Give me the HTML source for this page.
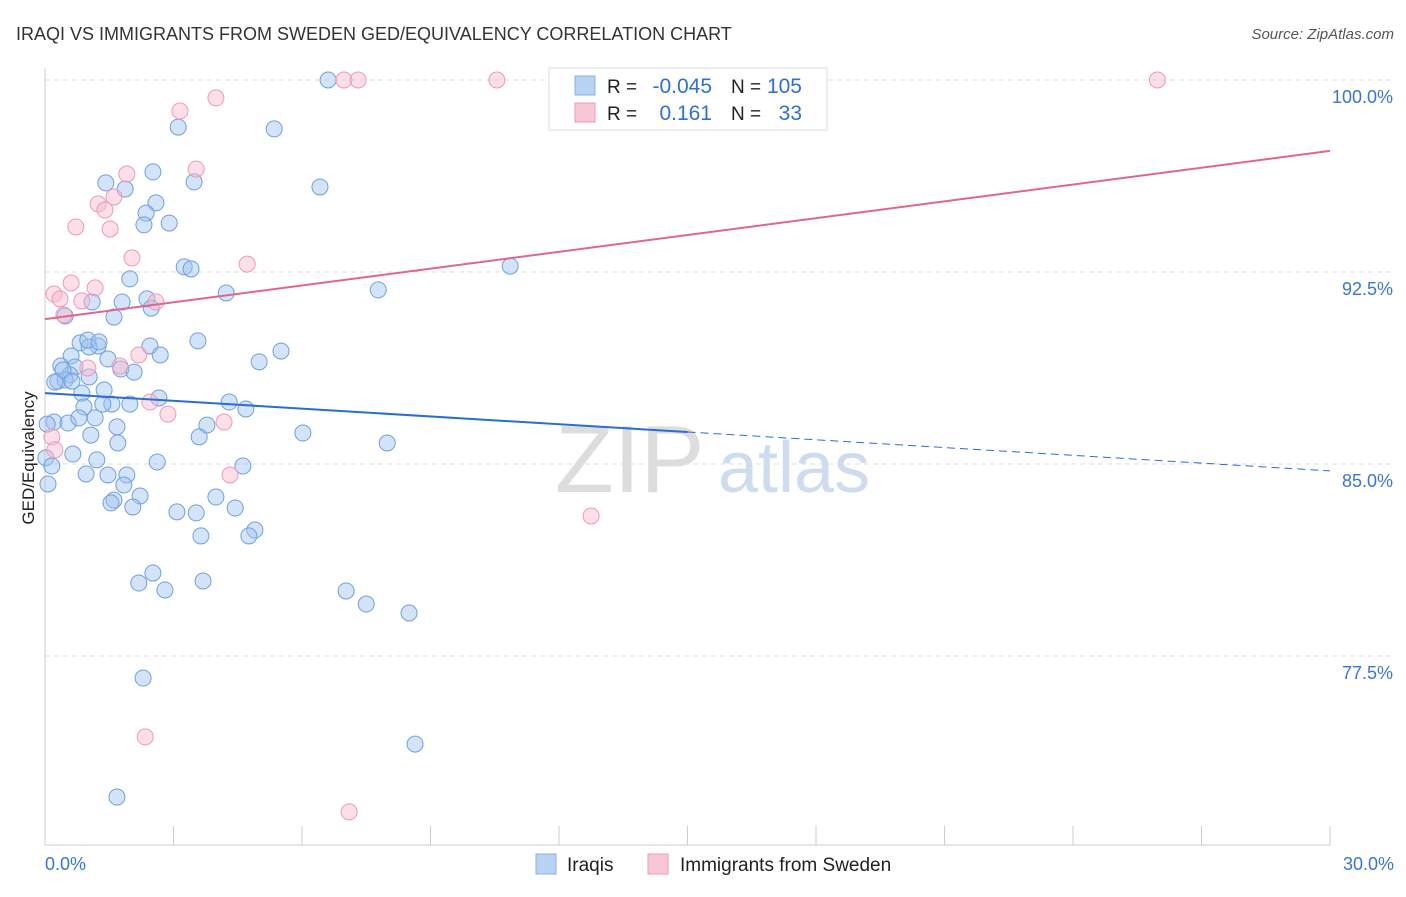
<!DOCTYPE html>
<html><head><meta charset="utf-8"><style>
body{margin:0;background:#fff;font-family:"Liberation Sans",sans-serif;}
svg text{font-family:"Liberation Sans",sans-serif;}
</style></head><body>
<svg id="chart" width="1406" height="892">
<text x="16" y="40" font-size="18" fill="#333">IRAQI VS IMMIGRANTS FROM SWEDEN GED/EQUIVALENCY CORRELATION CHART</text>
<text x="1394" y="39" font-size="15" fill="#555" text-anchor="end" font-style="italic">Source: ZipAtlas.com</text>
<text x="34" y="458" font-size="17" fill="#222" text-anchor="middle" transform="rotate(-90 34 458)">GED/Equivalency</text>
<g><text x="555" y="492" font-size="96" fill="#ddd" font-family="Liberation Serif">ZIP</text><text x="718" y="492" font-size="72" fill="#cfdcf0">atlas</text></g>
<g id="grid"></g><g id="axes"></g><g id="pts"></g><g id="trends"></g>
<g>
<rect x="549" y="68" width="278" height="62" fill="#fff" stroke="#ddd"/>
<rect x="575" y="76" width="20" height="19" fill="#b8d3f4" stroke="#8ab2e8"/>
<rect x="575" y="103" width="20" height="19" fill="#f9c6d6" stroke="#ee9ab5"/>
<text x="607" y="93" font-size="19" fill="#222">R = </text><text x="712" y="93" font-size="21" fill="#2f6fd6" text-anchor="end">-0.045</text>
<text x="731" y="93" font-size="19" fill="#222">N = </text><text x="802" y="93" font-size="21" fill="#2f6fd6" text-anchor="end">105</text>
<text x="607" y="120" font-size="19" fill="#222">R = </text><text x="712" y="120" font-size="21" fill="#2f6fd6" text-anchor="end">0.161</text>
<text x="731" y="120" font-size="19" fill="#222">N = </text><text x="802" y="120" font-size="21" fill="#2f6fd6" text-anchor="end">33</text>
</g>
<g>
<rect x="536" y="854" width="20" height="20" fill="#b8d3f4" stroke="#8ab2e8"/>
<text x="567" y="871" font-size="19" fill="#222">Iraqis</text>
<rect x="648" y="854" width="20" height="20" fill="#f9c6d6" stroke="#ee9ab5"/>
<text x="680" y="871" font-size="19" fill="#222">Immigrants from Sweden</text>
</g>
</svg>
<script>
const blueX=[6.61,3.11,5.35,2.52,1.42,1.87,3.48,6.42,2.59,2.36,2.31,2.90,3.25,3.41,10.86,1.98,4.23,7.78,2.38,1.80,1.10,2.48,1.61,0.47,3.57,0.82,1.24,1.03,2.45,5.51,2.69,0.61,1.47,5.00,0.37,0.70,1.77,2.08,0.58,1.03,0.30,0.47,1.38,2.66,0.86,1.98,1.56,1.35,4.30,4.69,0.91,0.21,0.54,0.79,1.17,0.05,1.68,3.78,1.07,3.60,6.02,7.99,1.70,0.65,0.02,1.21,2.62,0.16,4.62,1.91,1.47,0.96,1.84,0.07,2.22,3.99,1.61,1.54,2.05,3.08,3.53,4.44,4.90,4.76,3.64,2.52,2.19,2.80,3.69,7.03,7.50,8.50,2.29,8.64,1.68,1.00,1.26,0.42,0.63,0.23];
const blueY=[100.0,98.16,98.09,96.41,95.98,95.74,96.02,95.82,95.20,94.80,94.34,94.41,92.70,92.62,92.73,92.23,91.68,91.80,91.45,91.33,91.33,91.09,90.74,90.78,89.81,89.73,89.61,89.57,89.61,89.41,89.26,89.22,89.10,88.99,88.83,88.79,88.71,88.59,88.48,88.40,88.24,88.28,87.89,87.58,87.77,87.34,87.34,87.34,87.42,87.15,87.23,86.64,86.60,86.80,86.80,86.56,86.45,86.52,86.13,86.06,86.21,85.82,85.82,85.39,85.24,85.16,85.08,84.92,84.92,84.57,84.57,84.61,84.18,84.22,83.75,83.71,83.59,83.48,83.32,83.13,83.09,83.28,82.42,82.19,82.19,80.74,80.35,80.08,80.43,80.04,79.53,79.18,76.64,74.06,71.99,89.84,89.77,88.67,88.24,88.20];
const pinkX=[6.98,7.31,10.55,25.97,3.15,3.99,3.53,1.91,1.61,1.24,1.40,0.72,1.52,2.03,4.72,0.61,0.21,0.35,1.17,0.86,2.59,0.44,2.19,1.75,1.00,2.45,2.87,4.18,0.16,0.23,4.32,12.75,2.34,7.10];
const pinkY=[100.0,100.0,100.0,100.0,98.79,99.30,96.52,96.33,95.43,95.16,94.92,94.26,94.18,93.05,92.81,92.07,91.64,91.45,91.88,91.37,91.33,90.82,89.26,88.83,88.75,87.42,86.95,86.64,86.06,85.55,84.57,82.97,74.34,71.41];
const yTicks=[100,92.5,85,77.5];
const yTickLabels=["100.0%","92.5%","85.0%","77.5%"];
const blueTrend=[87.77,84.73];
const pinkTrend=[90.66,97.23];
const NS="http://www.w3.org/2000/svg";
const sx=v=>45+v/30*1285, sy=v=>80+(100-v)*25.6;
function mk(tag,parent,attrs){const e=document.createElementNS(NS,tag);for(const k in attrs)e.setAttribute(k,attrs[k]);document.getElementById(parent).appendChild(e);return e;}
yTicks.forEach((t,i)=>{
 const g=mk('line','grid',{x1:45,x2:1395,y1:sy(t),y2:sy(t),stroke:'#ddd','stroke-dasharray':'5,4'});
 
 
 const tx=mk('text','grid',{x:1393,y:sy(t)+23,'font-size':18,fill:'#3a74d6','text-anchor':'end'});
 tx.textContent=yTickLabels[i];
 
 
});
let a=mk('line','axes',{x1:45,x2:45,y1:68,y2:845,stroke:'#ccc'});


a=mk('line','axes',{x1:45,x2:1330,y1:845,y2:845,stroke:'#ccc'});


for(let i=0;i<=10;i++){const t=mk('line','axes',{x1:sx(i*3),x2:sx(i*3),y1:826,y2:845,stroke:'#ccc'});
 
 }
let l=mk('text','axes',{x:45,y:870,'font-size':18,fill:'#3a74d6'});l.textContent='0.0%';


l=mk('text','axes',{x:1394,y:870,'font-size':18,fill:'#3a74d6','text-anchor':'end'});l.textContent='30.0%';


blueX.forEach((x,i)=>{const c=mk('circle','pts',{cx:sx(x),cy:sy(blueY[i]),r:8,fill:'rgba(160,195,240,0.45)',stroke:'#6f9fe0','stroke-width':1});
 
 });
pinkX.forEach((x,i)=>{const c=mk('circle','pts',{cx:sx(x),cy:sy(pinkY[i]),r:8,fill:'rgba(248,185,205,0.45)',stroke:'#ec9ab6','stroke-width':1});
 
 });
const bMid=blueTrend[0]+(blueTrend[1]-blueTrend[0])*0.5;
let t=mk('line','trends',{x1:sx(0),y1:sy(blueTrend[0]),x2:sx(15),y2:sy(bMid),stroke:'#2a6dd6','stroke-width':2});


t=mk('line','trends',{x1:sx(15),y1:sy(bMid),x2:sx(30),y2:sy(blueTrend[1]),stroke:'#2a6dd6','stroke-width':1,'stroke-dasharray':'8,5'});


t=mk('line','trends',{x1:sx(0),y1:sy(pinkTrend[0]),x2:sx(30),y2:sy(pinkTrend[1]),stroke:'#e06690','stroke-width':2});


</script>
</body></html>
